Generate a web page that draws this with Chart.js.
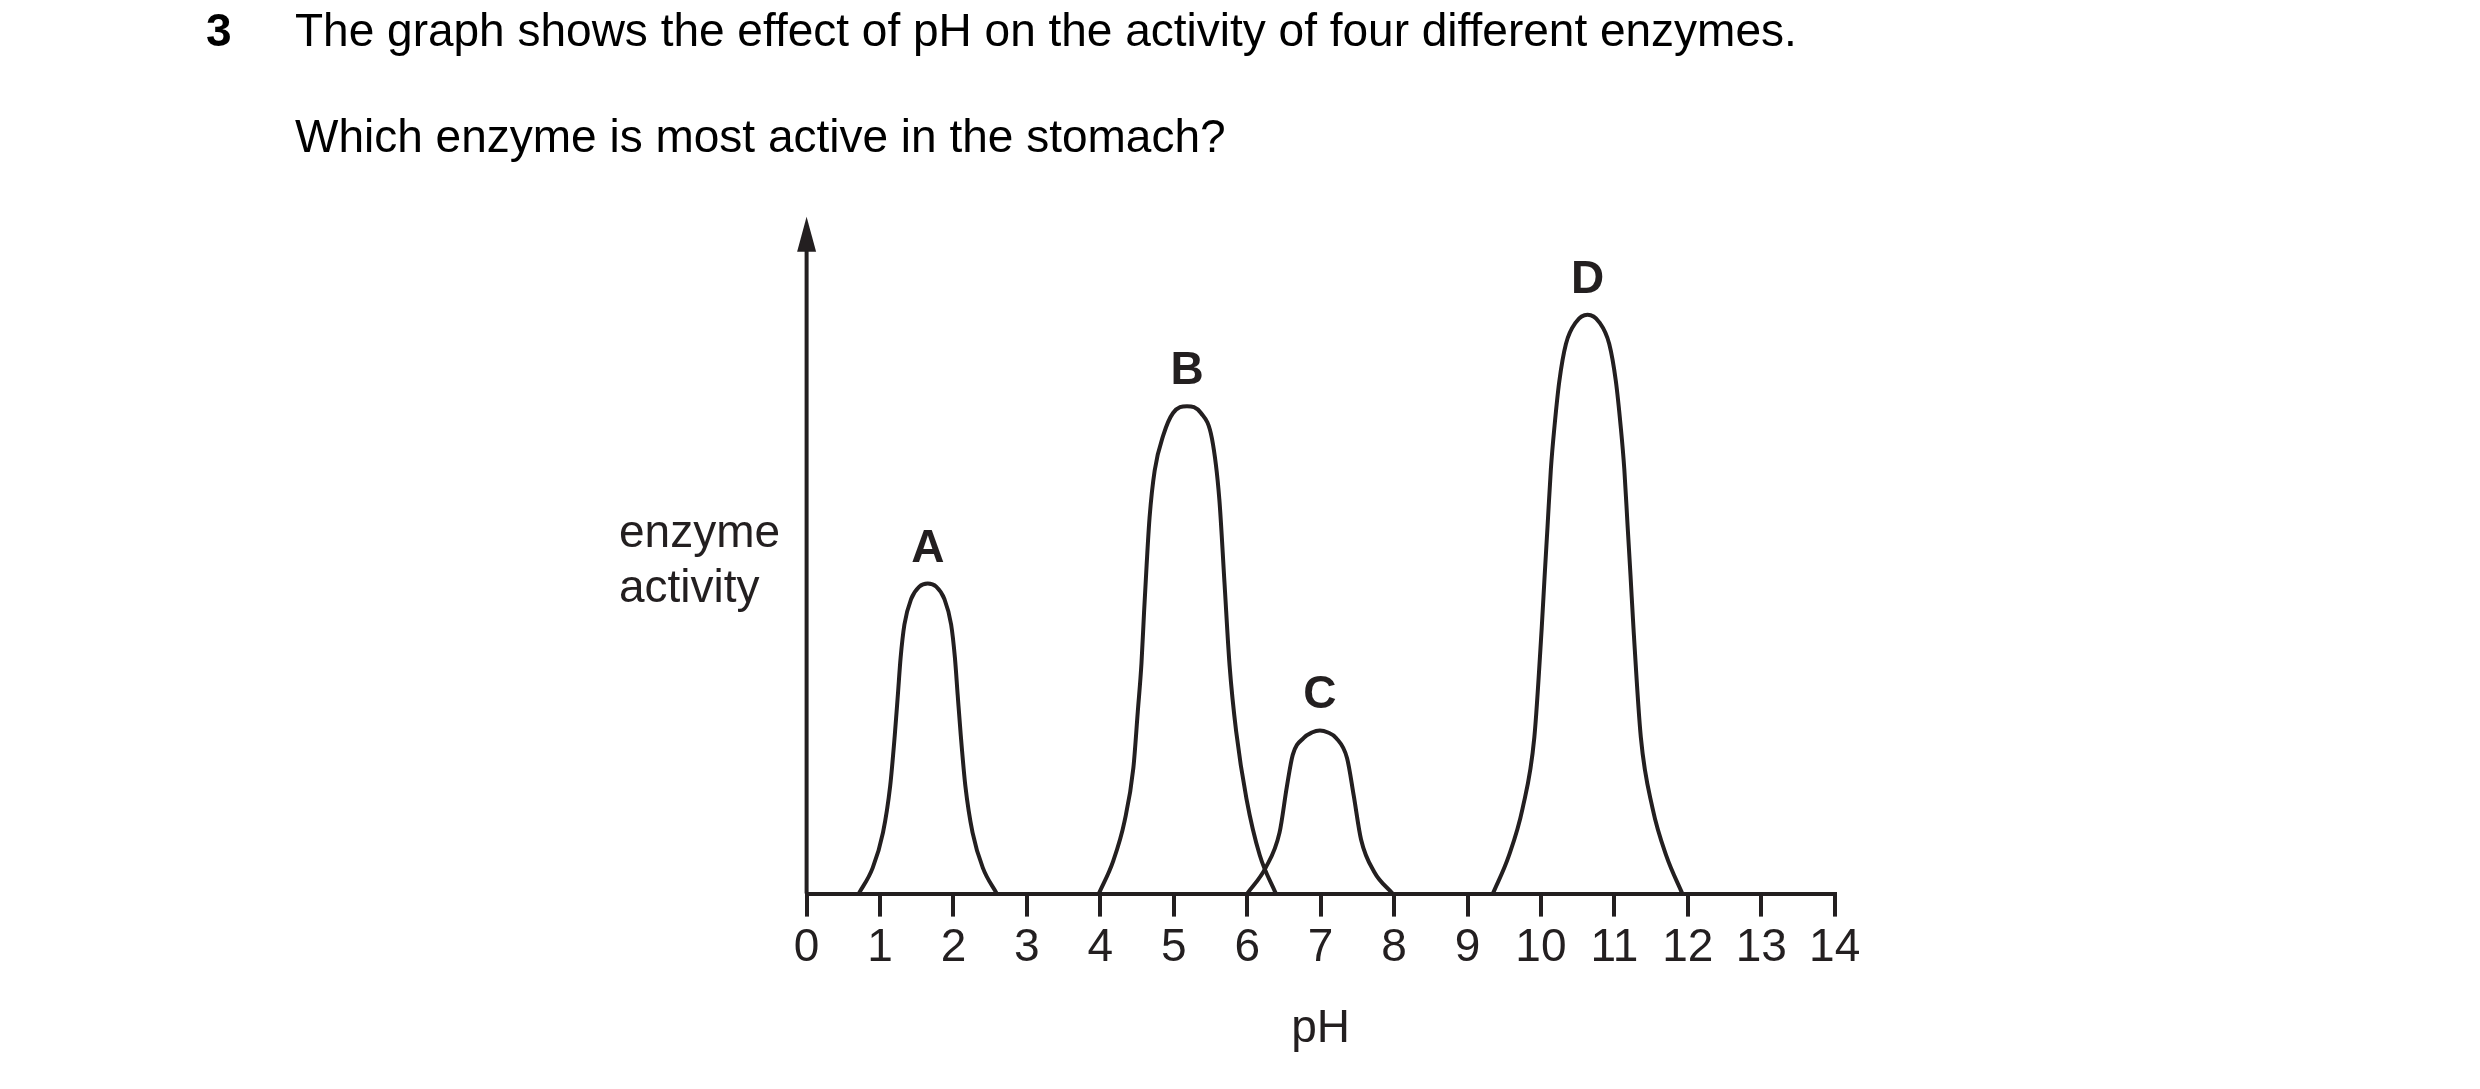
<!DOCTYPE html>
<html>
<head>
<meta charset="utf-8">
<script src="https://cdn.jsdelivr.net/npm/chart.js@4.4.1/dist/chart.umd.min.js"></script>
<style>
    html, body { margin: 0; padding: 0; background: #fff; }
    #wrap { position: relative; width: 2480px; height: 1089px; overflow: hidden; background: #fff; }
    #chart { position: absolute; left: 0; top: 0; }
    .txt {
        position: absolute;
        font-family: "Liberation Sans", Arial, sans-serif;
        font-size: 46px;
        line-height: 46px;
        white-space: nowrap;
        color: #000;
    }
</style>
</head>
<body>
<div id="wrap">
    <canvas id="chart" width="2480" height="1089"></canvas>
    <div class="txt" style="left:206px; top:7px; font-weight:bold;">3</div>
    <div class="txt" style="left:295px; top:7px;">The graph shows the effect of pH on the activity of four different enzymes.</div>
    <div class="txt" style="left:295px; top:113px;">Which enzyme is most active in the stomach?</div>
    <div class="txt" style="left:619px; top:504px; line-height:54.7px; color:#231f20;">enzyme<br>activity</div>
</div>
<script>
// valores (pH en x, actividad relativa 0-100 en y)
const phTicks = [0, 1, 2, 3, 4, 5, 6, 7, 8, 9, 10, 11, 12, 13, 14];
const enzymeNames = ['A', 'B', 'C', 'D'];

const phA = [0.71, 0.90, 1.04, 1.138, 1.20, 1.243, 1.28, 1.332, 1.425, 1.535, 1.65,
    1.765, 1.875, 1.968, 2.02, 2.057, 2.10, 2.162, 2.26, 2.40, 2.59];
const actA = [0, 3.8, 9.0, 15.9, 23.3, 29.4, 34.8, 39.75, 43.55, 45.35, 45.8,
    45.35, 43.55, 39.75, 34.8, 29.4, 23.3, 15.9, 9.0, 3.8, 0];

const phB = [3.98, 4.175, 4.33, 4.45, 4.51, 4.56, 4.595, 4.63, 4.67, 4.74, 4.86, 4.99, 5.18,
    5.37, 5.52, 5.62, 5.69, 5.76, 5.85, 5.99, 6.17, 6.39];
const actB = [0, 4.8, 10.7, 18.6, 26.9, 34.0, 41.5, 48.5, 55.5, 62.5, 67.8, 71.0, 72,
    71.0, 67.2, 58.3, 46.0, 33.7, 23.9, 14.0, 5.7, 0];

const phC = [6.0, 6.25, 6.44, 6.54, 6.62, 6.77, 6.88, 6.99, 7.10, 7.21, 7.36, 7.45, 7.55, 7.73, 7.98];
const actC = [0, 3.8, 9.0, 15.8, 20.5, 23.0, 23.8, 24.1, 23.8, 23.0, 20.0, 14.5, 8.0, 3.2, 0];

const phD = [9.345, 9.56, 9.75, 9.91, 10.01, 10.05, 10.09, 10.135, 10.185, 10.25, 10.34, 10.475, 10.635,
    10.795, 10.93, 11.02, 11.085, 11.135, 11.18, 11.22, 11.26, 11.36, 11.52, 11.71, 11.925];
const actD = [0, 5.5, 12.6, 23.1, 39.2, 46.9, 54.3, 62.7, 69.1, 75.7, 81.2, 84.4, 85.5,
    84.4, 81.2, 75.7, 69.1, 62.7, 54.3, 46.9, 39.2, 23.1, 12.6, 5.5, 0];

const INK = '#231f20';
const FONT = '"Liberation Sans", Arial, sans-serif';

function toPoints(xs, ys) {
    return xs.map((x, i) => ({ x: x, y: ys[i] }));
}

const curves = [[phA, actA], [phB, actB], [phC, actC], [phD, actD]];

// eje vertical con flecha
const yAxisArrow = {
    id: 'yAxisArrow',
    afterDraw(chart) {
        const { ctx, scales } = chart;
        const x = scales.x.getPixelForValue(0);
        const tip = scales.y.getPixelForValue(100);
        const base = scales.y.getPixelForValue(0);
        ctx.save();
        ctx.strokeStyle = INK;
        ctx.lineWidth = 4;
        ctx.beginPath();
        ctx.moveTo(x, base);
        ctx.lineTo(x, tip + 30);
        ctx.stroke();
        ctx.fillStyle = INK;
        ctx.beginPath();
        ctx.moveTo(x, tip);
        ctx.lineTo(x - 9.5, tip + 35);
        ctx.lineTo(x + 9.5, tip + 35);
        ctx.closePath();
        ctx.fill();
        ctx.restore();
    }
};

// letra encima de cada pico
const peakLabels = {
    id: 'peakLabels',
    afterDatasetsDraw(chart) {
        const { ctx } = chart;
        ctx.save();
        ctx.fillStyle = INK;
        ctx.font = 'bold 46px ' + FONT;
        ctx.textAlign = 'center';
        ctx.textBaseline = 'alphabetic';
        chart.data.datasets.forEach((ds, i) => {
            const meta = chart.getDatasetMeta(i);
            let top = meta.data[0];
            meta.data.forEach(p => { if (p.y < top.y) top = p; });
            ctx.fillText(ds.label, top.x, top.y - 22);
        });
        ctx.restore();
    }
};

new Chart(document.getElementById('chart'), {
    type: 'line',
    data: {
        datasets: curves.map((c, i) => ({
            label: enzymeNames[i],
            data: toPoints(c[0], c[1]),
            borderColor: INK,
            borderWidth: 4,
            pointRadius: 0,
            fill: false,
            cubicInterpolationMode: 'monotone'
        }))
    },
    options: {
        responsive: false,
        devicePixelRatio: 1,
        animation: false,
        layout: {
            padding: { left: 806.6, right: 645.3, top: 216.7, bottom: 0 }
        },
        plugins: {
            legend: { display: false },
            tooltip: { enabled: false }
        },
        scales: {
            x: {
                type: 'linear',
                min: 0,
                max: 14,
                afterBuildTicks: (scale) => {
                    scale.ticks = phTicks.map(v => ({ value: v }));
                },
                afterFit: (scale) => {
                    scale.height = 195.4;
                },
                ticks: {
                    color: INK,
                    font: { family: FONT, size: 46 },
                    padding: 4,
                    maxRotation: 0,
                    autoSkip: false
                },
                grid: {
                    display: true,
                    drawOnChartArea: false,
                    drawTicks: true,
                    tickLength: 23,
                    lineWidth: 4,
                    color: INK
                },
                border: { display: true, color: INK, width: 4 },
                title: {
                    display: true,
                    text: 'pH',
                    color: INK,
                    font: { family: FONT, size: 46 },
                    padding: { top: 0, bottom: 32 }
                }
            },
            y: {
                display: false,
                min: 0,
                max: 100
            }
        }
    },
    plugins: [yAxisArrow, peakLabels]
});
</script>
</body>
</html>
